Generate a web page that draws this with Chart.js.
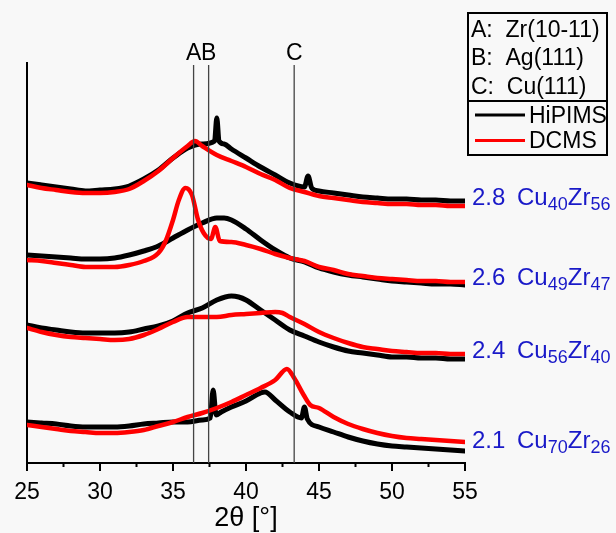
<!DOCTYPE html>
<html>
<head>
<meta charset="utf-8">
<script src="https://cdn.jsdelivr.net/npm/chart.js@4.4.0/dist/chart.umd.min.js"></script>
<style>
html,body{margin:0;padding:0;background:#f8f8f8;}
#wrap{width:616px;height:533px;}
canvas{display:block;}
</style>
</head>
<body>
<div id="wrap"><canvas id="c" width="616" height="533"></canvas></div>
<script>
// ---- data: [2θ (°), intensity (arb. units, offset stacked)] ----
const hipims_2_8 = [[25,282],[26,280],[27,278],[28,276],[29,274],[30,275],[31,276],[32,279],[33,286],[34,295],[35,307],[36,317],[37,321],[37.85,324],[38.0,347],[38.15,324],[38.5,321],[39,316],[40,307],[41,298],[42,290],[43,282],[44,278],[44.25,289],[44.5,277],[45,274],[46,272],[47,270],[48,268],[49,267],[50,266],[51,266],[52,265],[53,265],[54,264],[55,264]];
const dcms_2_8 = [[25,280],[26,277],[27,275],[28,273],[29,272],[30,272],[31,273],[32,276],[33,284],[34,294],[35,307],[36,319],[36.5,324],[37,319],[38,310],[39,304],[40,298],[41,291],[42,285],[43,277],[44,273],[45,269],[46,267],[47,265],[48,263],[49,262],[50,261],[51,261],[52,260],[53,260],[54,259],[55,259]];
const hipims_2_6 = [[25,210],[26,209],[27,208],[28,207],[29,206],[30,206],[31,207],[32,210],[33,214],[34,219],[35,227],[36,235],[37,242],[38,247],[38.5,247],[39,245],[40,236],[41,225],[42,215],[43,207],[44,203],[45,197],[46,193],[47,190],[48,188],[49,186],[50,184],[51,183],[52,182],[53,181],[54,181],[55,180]];
const dcms_2_6 = [[25,205],[26,204],[27,202],[28,200],[29,198],[30,198],[31,198],[32,200],[33,204],[34,212],[34.5,224],[35,245],[35.4,265],[35.85,277],[36.3,270],[36.7,246],[37.1,232],[37.6,226],[37.9,238],[38.2,224],[39,223],[40,220],[41,216],[42,211],[43,207],[44,204],[45,198],[46,195],[47,191],[48,189],[49,187],[50,186],[51,185],[52,184],[53,184],[54,183],[55,183]];
const hipims_2_4 = [[25,140],[26,137],[27,135],[28,133],[29,132],[30,132],[31,132],[32,133],[33,136],[34,139],[35,144],[36,152],[37,157],[38,165],[39,169],[39.5,168],[40,165],[41,155],[42,145],[43,135],[44,129],[45,123],[46,118],[47,114],[48,112],[49,110],[50,108],[51,108],[52,107],[53,107],[54,106],[55,106]];
const dcms_2_4 = [[25,137],[26,133],[27,130],[28,128],[29,127],[30,126],[31,125],[32,126],[33,130],[34,136],[35,143],[36,148],[37,148],[38,148],[39,150],[40,151],[41,152],[42,153],[42.5,152],[43,148],[44,141],[45,133],[46,127],[47,122],[48,118],[49,116],[50,114],[51,113],[52,112],[53,112],[54,111],[55,111]];
const hipims_2_1 = [[25,43],[26,42],[27,41],[28,39],[29,38],[30,38],[31,38],[32,39],[33,41],[34,42],[35,43],[36,43],[37,45],[37.55,47],[37.75,75],[37.95,50],[38.3,53],[39,58],[40,64],[41,72],[41.3,73],[42,65],[43,53],[43.8,47],[44.0,58],[44.2,46],[45,38],[46,33],[47,28],[48,24],[49,21],[50,19],[51,18],[52,17],[53,16],[54,15],[55,14]];
const dcms_2_1 = [[25,40],[26,38],[27,36],[28,34],[29,33],[30,32],[31,32],[32,33],[33,35],[34,39],[35,43],[36,48],[37,52],[38,57],[39,63],[40,70],[41,77],[42,85],[42.8,96],[43.3,87],[43.95,70],[44.4,60],[45,57],[46,48],[47,41],[48,36],[49,32],[50,29],[51,27],[52,26],[53,25],[54,24],[55,23]];

const powerRatio = ['2.8','2.6','2.4','2.1'];
const cuIndex = ['40','49','56','70'];
const zrIndex = ['56','47','40','26'];
const refPositions = [36.41, 37.44, 43.3];
const refLetters = ['A','B','C'];
const refPhases = ['Zr(10-11)','Ag(111)','Cu(111)'];
const seriesNames = ['HiPIMS','DCMS'];
const xTickValues = [25,30,35,40,45,50,55];
const xAxisTitle = '2θ [°]';

const FONT = '"Liberation Sans", Arial, Helvetica, sans-serif';
const BLUE = 'rgb(25,25,200)';
const pairs = [[hipims_2_8,dcms_2_8],[hipims_2_6,dcms_2_6],[hipims_2_4,dcms_2_4],[hipims_2_1,dcms_2_1]];

const datasets = [];
pairs.forEach((p,i)=>{
  datasets.push({label: seriesNames[0]+' '+powerRatio[i], data: p[0].map(([x,y])=>({x,y})), borderColor:'#000', borderWidth:5, order:1});
  datasets.push({label: seriesNames[1]+' '+powerRatio[i], data: p[1].map(([x,y])=>({x,y})), borderColor:'#f00', borderWidth:4.5, order:0});
});

const bgPlugin = {
  id:'bg',
  beforeDraw(chart){
    const c = chart.ctx; c.save(); c.fillStyle='#f8f8f8'; c.fillRect(0,0,chart.width,chart.height); c.restore();
  }
};

const decoPlugin = {
  id:'deco',
  afterDatasetsDraw(chart){
    const ctx = chart.ctx, xs = chart.scales.x, ys = chart.scales.y, a = chart.chartArea;
    ctx.save();
    // reference lines
    ctx.strokeStyle = '#444'; ctx.lineWidth = 1.3;
    ctx.fillStyle = '#000'; ctx.font = '23px '+FONT; ctx.textAlign='center'; ctx.textBaseline='alphabetic';
    refPositions.forEach((v,i)=>{
      const px = xs.getPixelForValue(v);
      ctx.beginPath(); ctx.moveTo(px, a.top+2); ctx.lineTo(px, a.bottom); ctx.stroke();
      ctx.fillText(refLetters[i], px, a.top-3);
    });
    // x ticks (outward)
    ctx.strokeStyle='#000'; ctx.lineWidth=2;
    for (let v = xs.min; v <= xs.max + 1e-6; v += 2.5) {
      const px = xs.getPixelForValue(v);
      const len = (Math.abs(v % 5) < 1e-6) ? 8 : 4;
      ctx.beginPath(); ctx.moveTo(px, a.bottom); ctx.lineTo(px, a.bottom+len); ctx.stroke();
    }
    // sample labels at right
    pairs.forEach((p,i)=>{
      const endAvg = (p[0][p[0].length-1][1] + p[1][p[1].length-1][1]) / 2;
      const base = ys.getPixelForValue(endAvg) + 1;
      let x = a.right + 7;
      ctx.textAlign='left'; ctx.fillStyle = BLUE;
      ctx.font = '24px '+FONT; const t1 = powerRatio[i]; ctx.fillText(t1, x, base); x += ctx.measureText(t1+' ').width + 5;
      ctx.fillText('Cu', x, base); x += ctx.measureText('Cu').width;
      ctx.font = '18px '+FONT; ctx.fillText(cuIndex[i], x, base+5); x += ctx.measureText(cuIndex[i]).width;
      ctx.font = '24px '+FONT; ctx.fillText('Zr', x, base); x += ctx.measureText('Zr').width;
      ctx.font = '18px '+FONT; ctx.fillText(zrIndex[i], x, base+5);
    });
    // legend box
    const L = a.right + 3, T = 13, R = 607, B = 155, D = 101;
    ctx.strokeStyle='#000'; ctx.lineWidth=2;
    ctx.strokeRect(L, T, R-L, B-T);
    ctx.beginPath(); ctx.moveTo(L, D); ctx.lineTo(R, D); ctx.stroke();
    ctx.fillStyle='#000'; ctx.font='23px '+FONT; ctx.textAlign='left';
    const rowBase = [36.5, 65.2, 93.5];
    refLetters.forEach((l,i)=>{ ctx.fillText(l+':  '+refPhases[i], L+3, rowBase[i]); });
    const lineY = [115, 140.5], txtBase = [122.8, 148.3], cols = ['#000','#f00'];
    seriesNames.forEach((n,i)=>{
      ctx.strokeStyle = cols[i]; ctx.lineWidth = 3;
      ctx.beginPath(); ctx.moveTo(L+7, lineY[i]); ctx.lineTo(L+57, lineY[i]); ctx.stroke();
      ctx.fillStyle='#000'; ctx.fillText(n, L+61, txtBase[i]);
    });
    ctx.restore();
  }
};

new Chart(document.getElementById('c'), {
  type:'line',
  data:{datasets},
  options:{
    responsive:false, animation:false, devicePixelRatio:1,
    layout:{padding:{left:27, right:151, top:63, bottom:0}},
    elements:{point:{radius:0}, line:{cubicInterpolationMode:'monotone', borderJoinStyle:'round', borderCapStyle:'round'}},
    plugins:{legend:{display:false}, tooltip:{enabled:false}},
    scales:{
      x:{type:'linear', min:25, max:55,
         afterFit(s){ s.height = 70; },
         ticks:{stepSize:5, color:'#000', padding:8, font:{family:FONT, size:23}, callback:(v)=> xTickValues.includes(v) ? String(v) : ''},
         grid:{display:false},
         border:{display:true, color:'#000', width:2},
         title:{display:true, text:xAxisTitle, color:'#000', font:{family:FONT, size:27}, padding:{top:0,bottom:-2}}
      },
      y:{type:'linear', min:2, max:402,
         afterFit(s){ s.width = 0; },
         ticks:{display:false}, grid:{display:false},
         border:{display:true, color:'#000', width:2}
      }
    }
  },
  plugins:[bgPlugin, decoPlugin]
});
</script>
</body>
</html>
